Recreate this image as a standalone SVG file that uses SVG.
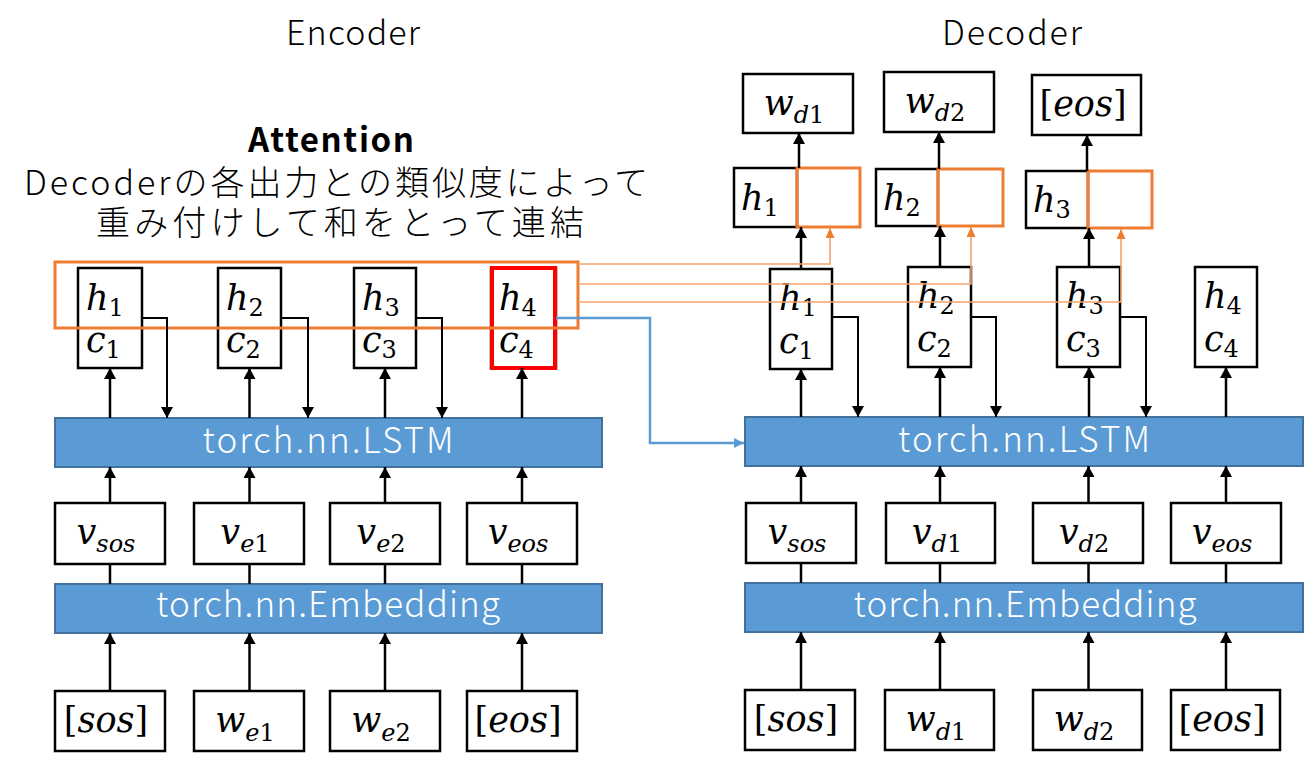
<svg xmlns="http://www.w3.org/2000/svg" width="1305" height="760" viewBox="0 0 1305 760">
<style>
.bg{fill:#fff}
.box{fill:#fff;stroke:#000;stroke-width:2.5}
.blk{fill:#5B9BD5;stroke:#41719C;stroke-width:2}
.att{fill:none;stroke:#ED7D31;stroke-width:3}
.obox{fill:none;stroke:#ED7D31;stroke-width:3}
.red{fill:none;stroke:#FF0000;stroke-width:4}
.t{font-family:"Noto Sans CJK JP","Liberation Sans",sans-serif;font-weight:300;fill:#000}
.tb{font-family:"Noto Sans CJK JP","Liberation Sans",sans-serif;font-weight:700;fill:#000}
.lbl{font-family:"Noto Sans CJK JP","Liberation Sans",sans-serif;font-weight:300;fill:#fff;font-size:35px}
.m{font-family:"DejaVu Serif","Liberation Serif",serif;font-style:italic;font-size:35px;fill:#000}
.s{font-size:24px}
.u{font-style:normal}
.ck{fill:none;stroke:#000;stroke-width:2.5}
.ckt{fill:none;stroke:#000;stroke-width:2}
.co{fill:none;stroke:#F4A46C;stroke-width:1.6}
.cb{fill:none;stroke:#5B9BD5;stroke-width:2.5}
</style>
<defs>
<marker id="ak" viewBox="0 0 10 11" refX="10" refY="5.5" markerWidth="11" markerHeight="12" markerUnits="userSpaceOnUse" orient="auto"><path d="M0,0L10,5.5L0,11z" fill="#000"/></marker>
<marker id="ao" viewBox="0 0 10 9" refX="10" refY="4.5" markerWidth="10" markerHeight="9" markerUnits="userSpaceOnUse" orient="auto"><path d="M0,0L10,4.5L0,9z" fill="#ED7D31"/></marker>
<marker id="ab" viewBox="0 0 10 10" refX="10" refY="5" markerWidth="10" markerHeight="10" markerUnits="userSpaceOnUse" orient="auto"><path d="M0,0L10,5L0,10z" fill="#5B9BD5"/></marker>
</defs>
<rect class="bg" x="0" y="0" width="1305" height="760"/>

<g id="titles">
<text class="t" x="353" y="45" font-size="34" text-anchor="middle" textLength="134">Encoder</text>
<text class="t" x="1012" y="45" font-size="34" text-anchor="middle" textLength="140">Decoder</text>
</g>

<g id="attention-note">
<text class="tb" x="331" y="152" font-size="33" text-anchor="middle" textLength="166">Attention</text>
<text class="t" x="336" y="195" font-size="34" text-anchor="middle" textLength="624">Decoderの各出力との類似度によって</text>
<text class="t" x="340" y="235" font-size="34" text-anchor="middle" textLength="488">重み付けして和をとって連結</text>
</g>

<!-- Encoder -->
<g id="enc-lstm"><rect class="blk" x="55" y="418" width="547" height="49"/><text class="lbl" x="328" y="453" text-anchor="middle" textLength="251">torch.nn.LSTM</text></g>
<g id="enc-emb"><rect class="blk" x="55" y="584" width="547" height="49"/><text class="lbl" x="328" y="617" text-anchor="middle" textLength="344">torch.nn.Embedding</text></g>

<g id="enc-hc1"><rect class="box" x="78" y="268" width="64" height="100"/><text class="m" x="86" y="310">h<tspan class="s u" dy="6">1</tspan></text><text class="m" x="86" y="352">c<tspan class="s u" dy="6">1</tspan></text></g>
<g id="enc-hc2"><rect class="box" x="218" y="268" width="63" height="100"/><text class="m" x="226" y="310">h<tspan class="s u" dy="6">2</tspan></text><text class="m" x="226" y="352">c<tspan class="s u" dy="6">2</tspan></text></g>
<g id="enc-hc3"><rect class="box" x="354" y="268" width="62" height="100"/><text class="m" x="362" y="310">h<tspan class="s u" dy="6">3</tspan></text><text class="m" x="362" y="352">c<tspan class="s u" dy="6">3</tspan></text></g>
<g id="enc-hc4"><rect class="box" x="491" y="268" width="65" height="100"/><rect class="red" x="492" y="268" width="63" height="100"/><text class="m" x="499" y="310">h<tspan class="s u" dy="6">4</tspan></text><text class="m" x="499" y="352">c<tspan class="s u" dy="6">4</tspan></text></g>
<g id="attention-box"><rect class="att" x="55" y="262" width="523" height="66"/></g>

<g id="enc-v1"><rect class="box" x="55" y="503" width="110" height="61"/><text class="m" x="106" y="544" text-anchor="middle">v<tspan class="s" dy="8">sos</tspan></text></g>
<g id="enc-v2"><rect class="box" x="194" y="503" width="110" height="61"/><text class="m" x="245" y="544" text-anchor="middle">v<tspan class="s" dy="8">e</tspan><tspan class="s u">1</tspan></text></g>
<g id="enc-v3"><rect class="box" x="330" y="503" width="110" height="61"/><text class="m" x="381" y="544" text-anchor="middle">v<tspan class="s" dy="8">e</tspan><tspan class="s u">2</tspan></text></g>
<g id="enc-v4"><rect class="box" x="467" y="503" width="110" height="61"/><text class="m" x="518" y="544" text-anchor="middle">v<tspan class="s" dy="8">eos</tspan></text></g>

<g id="enc-w1"><rect class="box" x="55" y="691" width="110" height="60"/><text class="m" x="106" y="732" text-anchor="middle"><tspan class="u">[</tspan>sos<tspan class="u">]</tspan></text></g>
<g id="enc-w2"><rect class="box" x="194" y="691" width="110" height="60"/><text class="m" x="245" y="732" text-anchor="middle">w<tspan class="s" dy="9">e</tspan><tspan class="s u">1</tspan></text></g>
<g id="enc-w3"><rect class="box" x="330" y="691" width="110" height="60"/><text class="m" x="381" y="732" text-anchor="middle">w<tspan class="s" dy="9">e</tspan><tspan class="s u">2</tspan></text></g>
<g id="enc-w4"><rect class="box" x="467" y="691" width="110" height="60"/><text class="m" x="518" y="732" text-anchor="middle"><tspan class="u">[</tspan>eos<tspan class="u">]</tspan></text></g>

<!-- Decoder -->
<g id="dec-lstm"><rect class="blk" x="745" y="417" width="558" height="49"/><text class="lbl" x="1024" y="452" text-anchor="middle" textLength="252">torch.nn.LSTM</text></g>
<g id="dec-emb"><rect class="blk" x="745" y="583" width="558" height="49"/><text class="lbl" x="1025" y="617" text-anchor="middle" textLength="343">torch.nn.Embedding</text></g>

<g id="dec-hc1"><rect class="box" x="770" y="269" width="62" height="100"/><text class="m" x="779" y="310">h<tspan class="s u" dy="6">1</tspan></text><text class="m" x="779" y="353">c<tspan class="s u" dy="6">1</tspan></text></g>
<g id="dec-hc2"><rect class="box" x="908" y="267" width="63" height="100"/><text class="m" x="917" y="308">h<tspan class="s u" dy="6">2</tspan></text><text class="m" x="917" y="351">c<tspan class="s u" dy="6">2</tspan></text></g>
<g id="dec-hc3"><rect class="box" x="1057" y="267" width="63" height="100"/><text class="m" x="1066" y="308">h<tspan class="s u" dy="6">3</tspan></text><text class="m" x="1066" y="351">c<tspan class="s u" dy="6">3</tspan></text></g>
<g id="dec-hc4"><rect class="box" x="1195" y="267" width="62" height="100"/><text class="m" x="1204" y="308">h<tspan class="s u" dy="6">4</tspan></text><text class="m" x="1204" y="351">c<tspan class="s u" dy="6">4</tspan></text></g>

<g id="dec-out1"><rect class="box" x="734" y="168" width="63" height="59"/><rect class="obox" x="797" y="168" width="63" height="59"/><text class="m" x="741" y="210">h<tspan class="s u" dy="6">1</tspan></text></g>
<g id="dec-out2"><rect class="box" x="876" y="169" width="62" height="57"/><rect class="obox" x="938" y="169" width="65" height="57"/><text class="m" x="883" y="210">h<tspan class="s u" dy="6">2</tspan></text></g>
<g id="dec-out3"><rect class="box" x="1026" y="171" width="62" height="57"/><rect class="obox" x="1088" y="171" width="64" height="57"/><text class="m" x="1033" y="212">h<tspan class="s u" dy="6">3</tspan></text></g>

<g id="dec-y1"><rect class="box" x="743" y="74" width="110" height="59"/><text class="m" x="794" y="115" text-anchor="middle">w<tspan class="s" dy="8">d</tspan><tspan class="s u">1</tspan></text></g>
<g id="dec-y2"><rect class="box" x="884" y="72" width="110" height="60"/><text class="m" x="935" y="113" text-anchor="middle">w<tspan class="s" dy="8">d</tspan><tspan class="s u">2</tspan></text></g>
<g id="dec-y3"><rect class="box" x="1032" y="75" width="109" height="60"/><text class="m" x="1083" y="116" text-anchor="middle"><tspan class="u">[</tspan>eos<tspan class="u">]</tspan></text></g>

<g id="dec-v1"><rect class="box" x="746" y="503" width="110" height="60"/><text class="m" x="797" y="544" text-anchor="middle">v<tspan class="s" dy="8">sos</tspan></text></g>
<g id="dec-v2"><rect class="box" x="886" y="503" width="109" height="60"/><text class="m" x="937" y="544" text-anchor="middle">v<tspan class="s" dy="8">d</tspan><tspan class="s u">1</tspan></text></g>
<g id="dec-v3"><rect class="box" x="1033" y="503" width="110" height="60"/><text class="m" x="1084" y="544" text-anchor="middle">v<tspan class="s" dy="8">d</tspan><tspan class="s u">2</tspan></text></g>
<g id="dec-v4"><rect class="box" x="1171" y="503" width="110" height="60"/><text class="m" x="1222" y="544" text-anchor="middle">v<tspan class="s" dy="8">eos</tspan></text></g>

<g id="dec-w1"><rect class="box" x="745" y="690" width="110" height="60"/><text class="m" x="796" y="731" text-anchor="middle"><tspan class="u">[</tspan>sos<tspan class="u">]</tspan></text></g>
<g id="dec-w2"><rect class="box" x="885" y="690" width="109" height="60"/><text class="m" x="936" y="731" text-anchor="middle">w<tspan class="s" dy="9">d</tspan><tspan class="s u">1</tspan></text></g>
<g id="dec-w3"><rect class="box" x="1033" y="690" width="109" height="60"/><text class="m" x="1084" y="731" text-anchor="middle">w<tspan class="s" dy="9">d</tspan><tspan class="s u">2</tspan></text></g>
<g id="dec-w4"><rect class="box" x="1171" y="690" width="109" height="60"/><text class="m" x="1222" y="731" text-anchor="middle"><tspan class="u">[</tspan>eos<tspan class="u">]</tspan></text></g>

<g id="connectors">
<!-- encoder -->
<path class="ck" d="M110,418V368" marker-end="url(#ak)"/>
<path class="ck" d="M249.5,418V368" marker-end="url(#ak)"/>
<path class="ck" d="M385,418V368" marker-end="url(#ak)"/>
<path class="ck" d="M522,418V368" marker-end="url(#ak)"/>
<path class="ckt" d="M142,318H167V418" marker-end="url(#ak)"/>
<path class="ckt" d="M281,318H308V418" marker-end="url(#ak)"/>
<path class="ckt" d="M416,318H442V418" marker-end="url(#ak)"/>
<path class="ck" d="M110,503V467" marker-end="url(#ak)"/>
<path class="ck" d="M249.5,503V467" marker-end="url(#ak)"/>
<path class="ck" d="M385,503V467" marker-end="url(#ak)"/>
<path class="ck" d="M522,503V467" marker-end="url(#ak)"/>
<path class="ck" d="M110,584V564M249.5,584V564M385,584V564M522,584V564"/>
<path class="ck" d="M110,691V633" marker-end="url(#ak)"/>
<path class="ck" d="M249.5,691V633" marker-end="url(#ak)"/>
<path class="ck" d="M385,691V633" marker-end="url(#ak)"/>
<path class="ck" d="M522,691V633" marker-end="url(#ak)"/>
<!-- decoder -->
<path class="ck" d="M801,417V369" marker-end="url(#ak)"/>
<path class="ck" d="M940,417V367" marker-end="url(#ak)"/>
<path class="ck" d="M1089,417V367" marker-end="url(#ak)"/>
<path class="ck" d="M1226,417V367" marker-end="url(#ak)"/>
<path class="ckt" d="M832,317H858V417" marker-end="url(#ak)"/>
<path class="ckt" d="M971,317H996V417" marker-end="url(#ak)"/>
<path class="ckt" d="M1120,317H1146V417" marker-end="url(#ak)"/>
<path class="ck" d="M801,269V227" marker-end="url(#ak)"/>
<path class="ck" d="M940,267V226" marker-end="url(#ak)"/>
<path class="ck" d="M1089,267V228" marker-end="url(#ak)"/>
<path class="ck" d="M799,168V133" marker-end="url(#ak)"/>
<path class="ck" d="M939,169V132" marker-end="url(#ak)"/>
<path class="ck" d="M1087,171V135" marker-end="url(#ak)"/>
<path class="ck" d="M801,503V466" marker-end="url(#ak)"/>
<path class="ck" d="M940,503V466" marker-end="url(#ak)"/>
<path class="ck" d="M1088.5,503V466" marker-end="url(#ak)"/>
<path class="ck" d="M1226,503V466" marker-end="url(#ak)"/>
<path class="ck" d="M801,583V563M940,583V563M1088.5,583V563M1226,583V563"/>
<path class="ck" d="M801,690V632" marker-end="url(#ak)"/>
<path class="ck" d="M940,690V632" marker-end="url(#ak)"/>
<path class="ck" d="M1088.5,690V632" marker-end="url(#ak)"/>
<path class="ck" d="M1226,690V632" marker-end="url(#ak)"/>
<!-- attention -->
<path class="co" d="M578,264H830V228" marker-end="url(#ao)"/>
<path class="co" d="M578,284H971V227" marker-end="url(#ao)"/>
<path class="co" d="M578,302H1121V229" marker-end="url(#ao)"/>
<!-- state hand-off -->
<path class="cb" d="M556,318H650V443H744" marker-end="url(#ab)"/>
</g>
</svg>
